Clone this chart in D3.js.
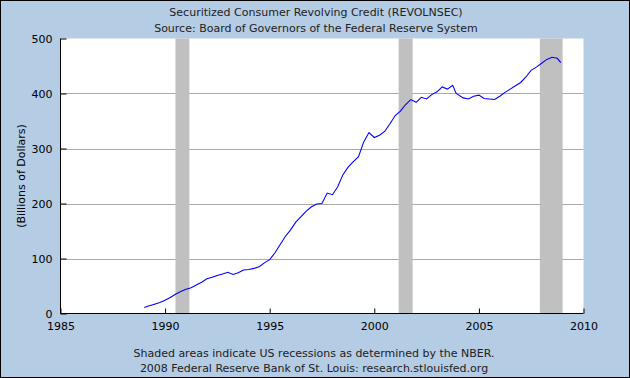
<!DOCTYPE html>
<html><head><meta charset="utf-8">
<script src="https://cdn.jsdelivr.net/npm/d3@7"></script>
<style>body{margin:0;padding:0;}svg{display:block;}</style>
</head><body>
<script>
const dates = ["1989-01","1989-04","1989-07","1989-10","1990-01","1990-04","1990-07","1990-10",
"1991-01","1991-04","1991-07","1991-10","1992-01","1992-04","1992-07","1992-10",
"1993-01","1993-04","1993-07","1993-10","1994-01","1994-04","1994-07","1994-10",
"1995-01","1995-04","1995-07","1995-10","1996-01","1996-04","1996-07","1996-10",
"1997-01","1997-04","1997-07","1997-10","1998-01","1998-04","1998-07","1998-10",
"1999-01","1999-04","1999-07","1999-10","2000-01","2000-04","2000-07","2000-10",
"2001-01","2001-04","2001-07","2001-10","2002-01","2002-04","2002-07","2002-10",
"2003-01","2003-04","2003-07","2003-10","2003-12","2004-04","2004-07","2004-10",
"2005-01","2005-04","2005-07","2005-10","2006-01","2006-04","2006-07","2006-10",
"2007-01","2007-04","2007-07","2007-10","2008-01","2008-04","2008-07","2008-10","2008-12"];
const values = [11,14,17,20,24,29,35,40,
44,47,52,57,63,66,69,72,
75,71,74,79,80,82,85,92,
98,110,125,140,152,166,176,186,
194,199,200,219,216,230,252,266,
276,285,312,329,320,324,331,345,
360,368,380,389,384,393,390,398,
403,412,408,415,400,392,390,395,
397,391,390,389,395,402,408,414,
420,430,442,448,455,462,466,464,456];
const recessionStarts = ["1990-07","2001-03","2007-12"];
const recessionEnds = ["1991-03","2001-11","2009-01"];
const yTicks = [0,100,200,300,400,500];
const xTickYears = [1985,1990,1995,2000,2005,2010];
const titleLines = ["Securitized Consumer Revolving Credit (REVOLNSEC)","Source: Board of Governors of the Federal Reserve System"];
const footLines = ["Shaded areas indicate US recessions as determined by the NBER.","2008 Federal Reserve Bank of St. Louis: research.stlouisfed.org"];
const yLabel = "(Billions of Dollars)";

const W=630,H=378;
const parse = d3.timeParse("%Y-%m");
const svg = d3.select("body").append("svg").attr("width",W).attr("height",H);
svg.append("rect").attr("x",0.5).attr("y",0.5).attr("width",W-1).attr("height",H-1)
  .attr("fill","#b4cce4").attr("stroke","#000");

const x = d3.scaleTime().domain([new Date(1985,0,1), new Date(2010,0,1)]).range([60.5,583.5]);
const y = d3.scaleLinear().domain([0,500]).range([313.5,38.5]);

svg.append("rect").attr("x",60.5).attr("y",38.5).attr("width",583.5-60.5).attr("height",313.5-38.5).attr("fill","#fff");

const font = "DejaVu Sans, Verdana, sans-serif";
svg.append("g").selectAll("line").data(yTicks.filter(v=>v>0 && v<500)).join("line")
  .attr("x1",60.5).attr("x2",583.5).attr("y1",d=>Math.round(y(d))+0.5).attr("y2",d=>Math.round(y(d))+0.5)
  .attr("stroke","#aaaaaa");
svg.append("g").selectAll("rect").data(recessionStarts.map((s,i)=>[parse(s),parse(recessionEnds[i])])).join("rect")
  .attr("x",d=>x(d[0])).attr("width",d=>x(d[1])-x(d[0])).attr("y",38.5).attr("height",313.5-38.5)
  .attr("fill","#c0c0c0");

const data = dates.map((d,i)=>({date:parse(d),value:values[i]}));
svg.append("path").datum(data).attr("fill","none").attr("stroke","#0000ff").attr("stroke-width",1.1)
  .attr("d",d3.line().x(d=>x(d.date)).y(d=>y(d.value)));

const yAxis = d3.axisLeft(y).tickValues(yTicks).tickSize(-6).tickPadding(8);
const gy = svg.append("g").attr("transform","translate(60.5,0)").call(yAxis);
const xAxis = d3.axisBottom(x).tickValues(xTickYears.map(yy=>new Date(yy,0,1))).tickFormat(d3.timeFormat("%Y")).tickSize(-5).tickPadding(9);
const gx = svg.append("g").attr("transform","translate(0,313.5)").call(xAxis);
[gx,gy].forEach(g=>{
  g.select(".domain").attr("stroke","#000");
  g.selectAll(".tick line").attr("stroke","#000");
  g.selectAll("text").attr("fill","#000").style("font-family",font).style("font-size","11px");
});
gy.select(".domain").attr("d","M0,313.5V38.5");
gx.select(".domain").attr("d","M60.5,0H583.5");

svg.append("g").selectAll("text").data(titleLines).join("text")
  .attr("x",316).attr("y",(d,i)=>16+i*16).attr("text-anchor","middle")
  .style("font-family",font).style("font-size","11px").attr("fill","#222").text(d=>d);
svg.append("g").selectAll("text").data(footLines).join("text")
  .attr("x",314).attr("y",(d,i)=>357+i*14.5).attr("text-anchor","middle")
  .style("font-family",font).style("font-size","11px").attr("fill","#222").text(d=>d);
svg.append("text").attr("transform","translate(25,176) rotate(-90)").attr("text-anchor","middle")
  .style("font-family",font).style("font-size","11px").attr("fill","#000").text(yLabel);
</script>
</body></html>
